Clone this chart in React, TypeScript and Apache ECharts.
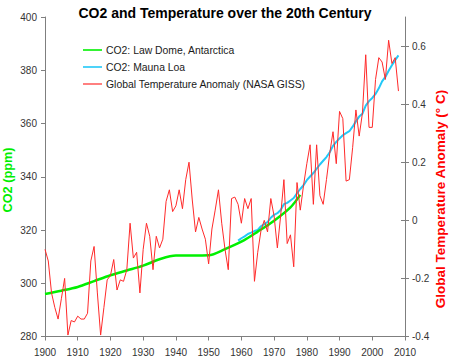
import React, { useEffect, useRef } from "react";
import * as echarts from "echarts";

const TITLE = "CO2 and Temperature over the 20th Century";
const LEFT_NAME = "CO2 (ppm)";
const RIGHT_NAME = "Global Temperature Anomaly (\u00B0 C)";

const lawDomeYears = [1900, 1905, 1910, 1915, 1920, 1925, 1930, 1935, 1940, 1945, 1950, 1955, 1960, 1965, 1970, 1975, 1978];
const lawDomeCO2 = [296.0, 297.2, 298.6, 300.8, 303.0, 304.8, 306.6, 309.0, 310.4, 310.4, 310.5, 312.8, 315.6, 319.4, 323.5, 328.5, 333.2];

const maunaLoaStart = 1959;
const maunaLoaCO2 = [
  316.0, 316.9, 317.6, 318.5, 319.0, 319.6, 320.0, 321.4, 322.2, 323.0,
  324.6, 325.7, 326.3, 327.5, 329.7, 330.2, 331.1, 332.0, 333.8, 335.4,
  336.8, 338.7, 340.1, 341.4, 343.0, 344.6, 346.0, 347.4, 349.2, 351.6,
  353.1, 354.4, 355.6, 356.4, 357.1, 358.8, 360.8, 362.6, 363.7, 366.7,
  368.4, 369.6, 371.1, 373.2, 375.8, 377.5, 379.8, 381.9, 383.8, 385.6,
];

const tempStart = 1900;
const tempAnomaly = [
  -0.10, -0.14, -0.25, -0.30, -0.34, -0.27, -0.20, -0.395, -0.345, -0.35,
  -0.33, -0.34, -0.34, -0.32, -0.14, -0.09, -0.25, -0.395, -0.30, -0.205,
  -0.19, -0.135, -0.24, -0.205, -0.21, -0.17, -0.01, -0.13, -0.11, -0.25,
  -0.10, -0.01, -0.055, -0.17, -0.055, -0.095, -0.065, 0.065, 0.105, 0.03,
  0.05, 0.105, 0.04, 0.14, 0.20, 0.07, -0.04, 0.01, -0.03, -0.065,
  -0.15, -0.03, 0.035, 0.105, -0.01, -0.10, -0.17, 0.075, 0.08, 0.055,
  -0.01, 0.075, 0.04, 0.075, -0.21, -0.11, -0.035, 0.0, -0.04, 0.075,
  0.015, -0.095, 0.015, 0.14, -0.08, -0.05, -0.16, 0.13, 0.035, 0.12,
  0.195, 0.26, 0.055, 0.26, 0.085, 0.055, 0.14, 0.23, 0.305, 0.195,
  0.375, 0.35, 0.135, 0.14, 0.25, 0.38, 0.29, 0.37, 0.57, 0.32,
  0.32, 0.485, 0.56, 0.545, 0.485, 0.62, 0.54, 0.56, 0.445,
];

const rightTicks = [-0.4, -0.2, 0, 0.2, 0.4, 0.6];

const FONT = "Liberation Sans, Arial, sans-serif";

export default function App() {
  const ref = useRef<HTMLDivElement>(null);
  useEffect(() => {
    if (!ref.current) return;
    const chart = echarts.init(ref.current, undefined, { renderer: "svg" });
    const lawData = lawDomeYears.map((y, i) => [y, lawDomeCO2[i]]);
    const mlData = maunaLoaCO2.map((v, i) => [maunaLoaStart + i, v]);
    const tData = tempAnomaly.map((v, i) => [tempStart + i, v]);
    const axisLine = { show: true, onZero: false, lineStyle: { color: "#7f7f7f", width: 1 } };
    chart.setOption({
      animation: false,
      backgroundColor: "#fff",
      title: {
        text: TITLE,
        left: "center",
        top: 1,
        textStyle: { fontFamily: FONT, fontSize: 14, fontWeight: "bold", color: "#000" },
      },
      legend: {
        left: 78,
        top: 40,
        orient: "vertical",
        icon: "rect",
        itemWidth: 19,
        itemHeight: 1.6,
        itemGap: 7,
        textStyle: { fontFamily: FONT, fontSize: 10.4, color: "#1a1a1a", padding: [0, 0, 0, -1] },
        data: ["CO2: Law Dome, Antarctica", "CO2: Mauna Loa", "Global Temperature Anomaly (NASA GISS)"],
      },
      grid: { left: 45, right: 45, top: 17, bottom: 23.5 },
      xAxis: {
        type: "value",
        min: 1900,
        max: 2010,
        interval: 10,
        axisLine,
        axisTick: { show: true, length: 4, lineStyle: { color: "#7f7f7f" } },
        axisLabel: {
          fontFamily: FONT,
          fontSize: 10,
          color: "#333",
          margin: 11,
          formatter: (v: number) => String(v),
        },
        splitLine: { show: false },
      },
      yAxis: [
        {
          type: "value",
          position: "left",
          min: 280,
          max: 400,
          interval: 20,
          axisLine,
          axisTick: { show: true, length: 4, lineStyle: { color: "#7f7f7f" } },
          axisLabel: { fontFamily: FONT, fontSize: 10, color: "#333", margin: 8 },
          splitLine: { show: false },
        },
        {
          type: "value",
          position: "right",
          min: -0.4,
          max: 0.7,
          interval: 0.2,
          axisLine,
          axisTick: { show: true, length: 4, customValues: rightTicks, lineStyle: { color: "#7f7f7f" } },
          axisLabel: {
            fontFamily: FONT,
            fontSize: 10,
            color: "#333",
            margin: 7,
            customValues: rightTicks,
            formatter: (v: number) => String(Math.round(v * 10) / 10),
          },
          splitLine: { show: false },
        },
        {
          type: "value",
          position: "right",
          min: -0.4,
          max: 0.7,
          interval: 0.2,
          axisLine: { show: false },
          axisTick: { show: true, inside: true, length: 4, customValues: rightTicks, lineStyle: { color: "#7f7f7f" } },
          axisLabel: { show: false },
          splitLine: { show: false },
        },
      ],
      graphic: [
        {
          type: "text",
          x: 8,
          y: 180,
          rotation: Math.PI / 2,
          style: {
            text: LEFT_NAME,
            fill: "#00ee00",
            font: "bold 12.7px " + FONT,
            align: "center",
            verticalAlign: "middle",
          },
        },
        {
          type: "text",
          x: 440,
          y: 199,
          rotation: Math.PI / 2,
          style: {
            text: RIGHT_NAME,
            fill: "#ff0000",
            font: "bold 13.5px " + FONT,
            align: "center",
            verticalAlign: "middle",
          },
        },
      ],
      series: [
        {
          name: "CO2: Mauna Loa",
          type: "line",
          yAxisIndex: 0,
          data: mlData,
          symbol: "none",
          lineStyle: { color: "#22c8f8", width: 2 },
          itemStyle: { color: "#22c8f8" },
          z: 2,
        },
        {
          name: "CO2: Law Dome, Antarctica",
          type: "line",
          yAxisIndex: 0,
          data: lawData,
          symbol: "none",
          smooth: 0.3,
          lineStyle: { color: "#00f000", width: 2.5 },
          itemStyle: { color: "#00f000" },
          z: 3,
        },
        {
          name: "Global Temperature Anomaly (NASA GISS)",
          type: "line",
          yAxisIndex: 1,
          data: tData,
          symbol: "none",
          lineStyle: { color: "#ff2a2a", width: 1 },
          itemStyle: { color: "#ff6060" },
          z: 4,
        },
      ],
    });
    return () => chart.dispose();
  }, []);
  return <div ref={ref} style={{ width: 450, height: 360, position: "absolute", left: 0, top: 0 }} />;
}
